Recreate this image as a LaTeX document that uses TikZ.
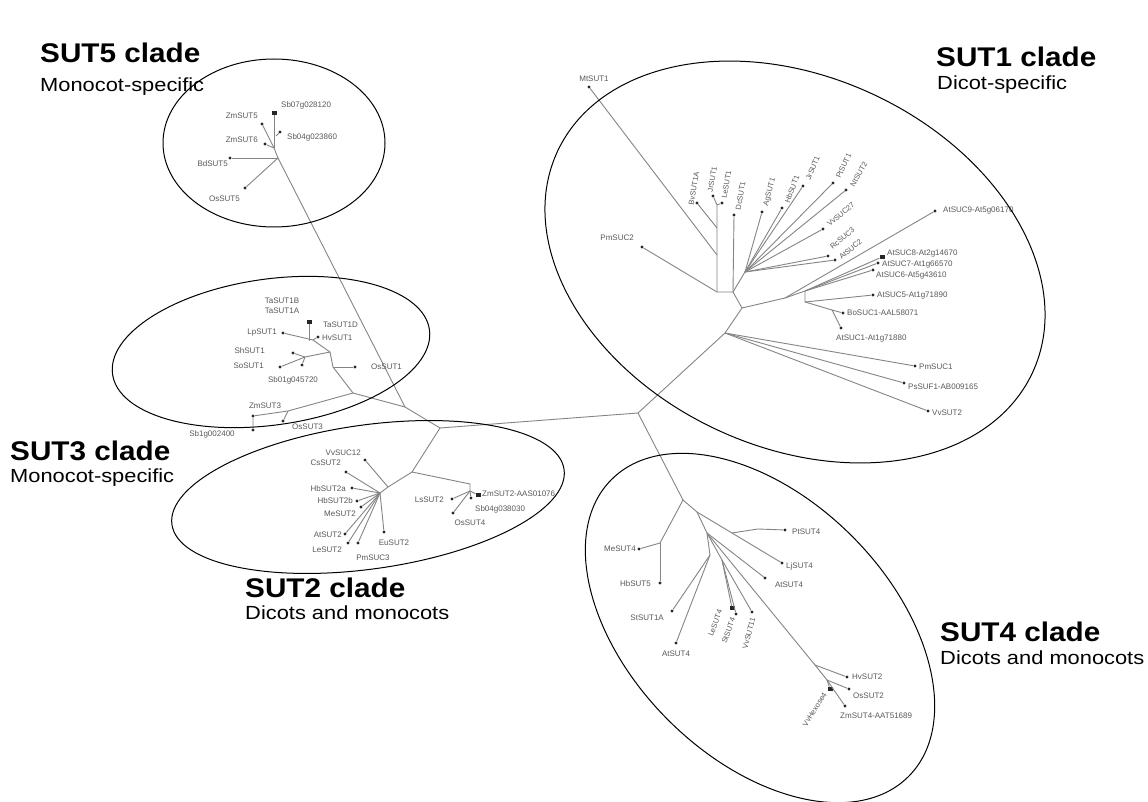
\documentclass[tikz,border=0pt]{standalone}
\usepackage{fontspec}
\setmainfont{Liberation Sans}
\begin{document}
\begin{tikzpicture}[x=1pt,y=-1pt,
  br/.style={draw=black!48, line width=0.9pt},
  lf/.style={circle, fill=black!85, inner sep=0pt, minimum size=3.4pt},
  sq/.style={rectangle, fill=black!85, inner sep=0pt, minimum width=5pt, minimum height=4pt},
  lab/.style={font=\fontsize{8}{8}\selectfont, text=black!65, inner sep=0pt},
  rlab/.style={font=\fontsize{7.5}{7.5}\selectfont, text=black!65, inner sep=0pt},
  clade/.style={draw=black, line width=1pt},
  ttl/.style={font=\bfseries\fontsize{27}{30}\selectfont, anchor=base west, inner sep=0pt, xscale=1.1},
  sub/.style={font=\fontsize{19}{22}\selectfont, anchor=base west, inner sep=0pt, xscale=1.15}]
\useasboundingbox (0,0) rectangle (1148,802);
\fill[white] (0,0) rectangle (1148,802);

% ---------- backbone ----------
\coordinate (A) at (440,428);
\coordinate (J0) at (405,407);
\coordinate (B) at (638,413);
\draw[br] (J0) -- (A) -- (B);

% ---------- SUT5 ----------
\coordinate (S5a) at (278,158);
\coordinate (S5c) at (274,148);
\node[lf] (bd5) at (230,158) {};
\node[lf] (os5) at (245,188) {};
\node[lf] (zm6) at (265,144) {};
\node[lf] (zm5) at (262,124) {};
\node[lf] (sb04) at (280,132) {};
\node[sq] (sb07) at (274,113) {};
\draw[br] (J0) -- (S5a) -- (S5c) -- (zm5);
\draw[br] (S5a) -- (bd5);
\draw[br] (S5a) -- (os5);
\draw[br] (S5c) -- (zm6);
\draw[br] (S5c) -- (sb07);
\draw[br] (276,136) -- (sb04);
\node[lab, anchor=west] (tsb07) at (281,105) {Sb07g028120};
\node[lab, anchor=east] (tzm5) at (258,116) {ZmSUT5};
\node[lab, anchor=west] (tsb04) at (287,137) {Sb04g023860};
\node[lab, anchor=east] (tzm6) at (258,140) {ZmSUT6};
\node[lab, anchor=east] (tbd5) at (228,164) {BdSUT5};
\node[lab, anchor=east] (tos5) at (240,199) {OsSUT5};

% ---------- SUT3 ----------
\coordinate (S3a) at (353,393);
\coordinate (S3m) at (333,367);
\coordinate (S3b) at (330,352);
\coordinate (S3c) at (313,340);
\coordinate (S3d) at (305,357);
\coordinate (S3e) at (288,411);
\node[lf] (lp1) at (283,333) {};
\node[lf] (hv1) at (318,337) {};
\node[sq] (ta1) at (309,322) {};
\node[lf] (os1) at (355,367) {};
\node[lf] (sh1) at (293,353) {};
\node[lf] (so1) at (280,367) {};
\node[lf] (sb01) at (302,365) {};
\node[lf] (zm3) at (253,416) {};
\node[lf] (sb10) at (253,430) {};
\node[lf] (os3) at (283,421) {};
\draw[br] (J0) -- (S3a) -- (S3m) -- (S3b) -- (S3c) -- (lp1);
\draw[br] (S3m) -- (os1);
\draw[br] (S3c) -- (hv1);
\draw[br] (ta1) -- (309,341);
\draw[br] (S3b) -- (S3d) -- (sh1);
\draw[br] (S3d) -- (so1);
\draw[br] (S3d) -- (sb01);
\draw[br] (S3a) -- (S3e) -- (zm3) -- (sb10);
\draw[br] (S3e) -- (os3);
\node[lab] (tta1b) at (282,301) {TaSUT1B};
\node[lab] (tta1a) at (282,311) {TaSUT1A};
\node[lab, anchor=west] (tta1d) at (323,325) {TaSUT1D};
\node[lab, anchor=east] (tlp1) at (277,333) {LpSUT1};
\node[lab, anchor=west] (thv1) at (322,338) {HvSUT1};
\node[lab, anchor=east] (tsh1) at (265,351) {ShSUT1};
\node[lab, anchor=east] (tso1) at (264,366) {SoSUT1};
\node[lab] (tsb01) at (293,380) {Sb01g045720};
\node[lab, anchor=west] (tos1) at (371,367) {OsSUT1};
\node[lab] (tzm3) at (265,406) {ZmSUT3};
\node[lab] (tsb10) at (212,434) {Sb1g002400};
\node[lab, anchor=west] (tos3) at (292,427) {OsSUT3};

% ---------- SUT2 ----------
\coordinate (J2a) at (412,472);
\coordinate (J2b) at (388,487);
\coordinate (J2c) at (380,493);
\coordinate (J2d) at (470,484);
\coordinate (J2e) at (470,491);
\node[lf] (vv12) at (365,460) {};
\node[lf] (cs2) at (346,472) {};
\node[lf] (hb2a) at (352,488) {};
\node[lf] (hb2b) at (357,501) {};
\node[lf] (me2) at (361,507) {};
\node[lf] (at2) at (345,534) {};
\node[lf] (le2) at (348,543) {};
\node[lf] (pm3) at (358,543) {};
\node[lf] (eu2) at (384,532) {};
\node[lf] (ls2) at (452,499) {};
\node[lf] (sb38) at (471,498) {};
\node[sq] (zm2) at (478,495) {};
\node[lf] (os4) at (453,513) {};
\draw[br] (A) -- (J2a) -- (J2b) -- (J2c);
\draw[br] (J2a) -- (J2d) -- (J2e);
\draw[br] (J2b) -- (vv12);
\foreach \n in {cs2,hb2a,hb2b,me2,at2,le2,pm3,eu2} \draw[br] (J2c) -- (\n);
\foreach \n in {ls2,sb38,zm2,os4} \draw[br] (J2e) -- (\n);
\node[lab, anchor=east] (tvv12) at (361,453) {VvSUC12};
\node[lab, anchor=east] (tcs2) at (341,463) {CsSUT2};
\node[lab, anchor=east] (thb2a) at (346,489) {HbSUT2a};
\node[lab, anchor=east] (thb2b) at (353,501) {HbSUT2b};
\node[lab, anchor=east] (tme2) at (356,514) {MeSUT2};
\node[lab, anchor=east] (tat2) at (342,535) {AtSUT2};
\node[lab, anchor=east] (tle2) at (342,550) {LeSUT2};
\node[lab] (tpm3) at (373,558) {PmSUC3};
\node[lab] (teu2) at (394,543) {EuSUT2};
\node[lab, anchor=east] (tls2) at (444,500) {LsSUT2};
\node[lab, anchor=west] (tzm2) at (482,494) {ZmSUT2-AAS01076};
\node[lab, anchor=west] (tsb38) at (475,509) {Sb04g038030};
\node[lab] (tos4) at (470,523) {OsSUT4};

% ---------- SUT1 ----------
\coordinate (K1) at (725,333);
\coordinate (K) at (742,308);
\coordinate (K0) at (733,292);
\coordinate (L0) at (717,292);
\coordinate (L1) at (717,205);
\coordinate (Lm) at (717,255);
\coordinate (Lb) at (717,228);
\coordinate (F) at (745,272);
\coordinate (K2) at (785,298);
\coordinate (K3) at (805,291);
\coordinate (K4) at (805,302);
\coordinate (K5) at (832,310);
\node[lf] (mt1) at (589,87) {};
\node[lf] (pm2) at (642,247) {};
\node[lf] (bv1) at (697,203) {};
\node[lf] (jr1) at (713,196) {};
\node[lf] (le1) at (722,203) {};
\node[lf] (dc1) at (734,215) {};
\node[lf] (d1) at (762,212) {};
\node[lf] (d2) at (782,208) {};
\node[lf] (d3) at (803,186) {};
\node[lf] (d4) at (833,183) {};
\node[lf] (d5) at (846,190) {};
\node[lf] (d6) at (823,229) {};
\node[lf] (d7) at (828,256) {};
\node[lf] (d8) at (835,260) {};
\node[lf] (at9) at (935,211) {};
\node[sq] (at8) at (882,257) {};
\node[lf] (at7) at (878,263) {};
\node[lf] (at6) at (873,270) {};
\node[lf] (at5) at (873,295) {};
\node[lf] (bo1) at (843,313) {};
\node[lf] (at1) at (841,328) {};
\node[lf] (pm1) at (915,366) {};
\node[lf] (ps1) at (904,383) {};
\node[lf] (vv2) at (928,411) {};
\draw[br] (B) -- (K1) -- (K) -- (K0) -- (L0);
\draw[br] (L0) -- (pm2);
\draw[br] (L0) -- (L1) -- (jr1);
\draw[br] (L1) -- (le1);
\draw[br] (Lm) -- (mt1);
\draw[br] (Lb) -- (bv1);
\draw[br] (K0) -- (dc1);
\draw[br] (K0) -- (F);
\foreach \n in {d1,d2,d3,d4,d5,d6,d7,d8} \draw[br] (F) -- (\n);
\draw[br] (K) -- (K2) -- (at9);
\draw[br] (K2) -- (K3);
\foreach \n in {at8,at7,at6} \draw[br] (K3) -- (\n);
\draw[br] (K3) -- (K4) -- (at5);
\draw[br] (K4) -- (K5) -- (bo1);
\draw[br] (K5) -- (at1);
\foreach \n in {pm1,ps1,vv2} \draw[br] (K1) -- (\n);
\node[lab] (tmt1) at (594,79) {MtSUT1};
\node[lab, anchor=east] (tpm2) at (634,238) {PmSUC2};
\node[rlab, rotate=80, anchor=west] (tbv1) at (691,205) {BvSUT1A};
\node[rlab, rotate=80, anchor=west] (tjr1) at (710,192) {JrSUT1};
\node[rlab, rotate=80, anchor=west] (tle1) at (724,198) {LeSUT1};
\node[rlab, rotate=80, anchor=west] (tdc1) at (738,210) {DcSUT1};
\node[rlab, rotate=75, anchor=west] (td1) at (766,206) {AgSUT1};
\node[rlab, rotate=70, anchor=west] (td2) at (787,203) {HbSUT1};
\node[rlab, rotate=68, anchor=west] (td3) at (808,180) {JrSUT1};
\node[rlab, rotate=65, anchor=west] (td4) at (838,178) {PtSUT1};
\node[rlab, rotate=60, anchor=west] (td5) at (852,186) {NtSUT2};
\node[rlab, rotate=40, anchor=west] (td6) at (828,225) {VvSUC27};
\node[rlab, rotate=40, anchor=west] (td7) at (831,248) {RcSUC3};
\node[rlab, rotate=40, anchor=west] (td8) at (840,258) {AtSUC2};
\node[lab, anchor=west] (tat9) at (943,211) {AtSUC9-At5g06170};
\node[lab, anchor=west] (tat8) at (887,254) {AtSUC8-At2g14670};
\node[lab, anchor=west] (tat7) at (882,265) {AtSUC7-At1g66570};
\node[lab, anchor=west] (tat6) at (876,276) {AtSUC6-At5g43610};
\node[lab, anchor=west] (tat5) at (877,296) {AtSUC5-At1g71890};
\node[lab, anchor=west] (tbo1) at (847,313) {BoSUC1-AAL58071};
\node[lab, anchor=west] (tat1) at (836,339) {AtSUC1-At1g71880};
\node[lab, anchor=west] (tpm1) at (919,367) {PmSUC1};
\node[lab, anchor=west] (tps1) at (908,387) {PsSUF1-AB009165};
\node[lab, anchor=west] (tvv2) at (932,413) {VvSUT2};

% ---------- SUT4 ----------
\coordinate (J4a) at (683,500);
\coordinate (J4m) at (660,543);
\coordinate (J4b) at (697,512);
\coordinate (J4c) at (732,533);
\coordinate (J4d) at (707,533);
\coordinate (J4e) at (710,555);
\coordinate (J4f) at (722,560);
\coordinate (J4h) at (815,665);
\coordinate (J4i) at (827,680);
\node[lf] (me4) at (639,549) {};
\node[lf] (hb5) at (660,583) {};
\node[lf] (pt4) at (785,530) {};
\node[lf] (lj4) at (782,563) {};
\node[lf] (at4) at (765,578) {};
\node[lf] (si1) at (672,611) {};
\node[lf] (at4b) at (676,643) {};
\node[sq] (le4) at (732,608) {};
\node[lf] (st4) at (736,614) {};
\node[lf] (vv11) at (752,612) {};
\node[lf] (hv2) at (847,677) {};
\node[sq] (vvh) at (830,689) {};
\node[lf] (os2) at (849,689) {};
\node[lf] (zm4) at (845,706) {};
\draw[br] (B) -- (J4a) -- (J4m) -- (me4);
\draw[br] (J4m) -- (hb5);
\draw[br] (J4a) -- (J4b) -- (J4c) -- (lj4);
\draw[br] (J4c) -- (758,529) -- (pt4);
\draw[br] (J4b) -- (J4d) -- (J4h);
\draw[br] (J4d) -- (at4);
\draw[br] (J4d) -- (J4e) -- (si1);
\draw[br] (J4e) -- (at4b);
\draw[br] (J4d) -- (J4f) -- (le4);
\draw[br] (J4f) -- (st4);
\draw[br] (J4f) -- (vv11);
\draw[br] (J4h) -- (hv2);
\draw[br] (J4h) -- (J4i) -- (vvh);
\draw[br] (J4i) -- (os2);
\draw[br] (J4i) -- (zm4);
\node[lab, anchor=east] (tme4) at (636,549) {MeSUT4};
\node[lab, anchor=east] (thb5) at (651,584) {HbSUT5};
\node[lab, anchor=west] (tpt4) at (792,532) {PtSUT4};
\node[lab, anchor=west] (tlj4) at (786,566) {LjSUT4};
\node[lab] (tat4) at (789,585) {AtSUT4};
\node[lab, anchor=east] (tsi1) at (664,618) {StSUT1A};
\node[lab] (tat4b) at (676,654) {AtSUT4};
\node[rlab, rotate=70, anchor=east] (tle4) at (720,610) {LeSUT4};
\node[rlab, rotate=70, anchor=east] (tst4) at (733,618) {StSUT4};
\node[rlab, rotate=75, anchor=east] (tvv11) at (753,618) {VvSUT11};
\node[lab, anchor=west] (thv2) at (852,677) {HvSUT2};
\node[lab, anchor=west] (tos2) at (853,696) {OsSUT2};
\node[lab, anchor=west] (tzm4) at (840,716) {ZmSUT4-AAT51689};
\node[rlab, rotate=58, anchor=east] (tvvh) at (825,693) {VvHexose4};

% ---------- clade ellipses ----------
\draw[clade] (274,143) ellipse [x radius=111, y radius=84];
\draw[clade, rotate around={8:(271,352)}] (271,352) ellipse [x radius=160, y radius=73];
\draw[clade, rotate around={8:(368,497)}] (368,497) ellipse [x radius=198, y radius=72];
\draw[clade, rotate around={-25:(795,262)}] (795,262) ellipse [x radius=262, y radius=185];
\draw[clade, rotate around={-45:(760,628)}] (760,628) ellipse [x radius=210, y radius=130];

% ---------- titles ----------
\node[ttl] (h5) at (40,63) {SUT5 clade};
\node[sub] (s5) at (40,92) {Monocot-specific};
\node[ttl] (h1) at (936,67) {SUT1 clade};
\node[sub] (s1) at (937,90) {Dicot-specific};
\node[ttl] (h3) at (10,460) {SUT3 clade};
\node[sub] (s3) at (10,482) {Monocot-specific};
\node[ttl] (h2) at (245,597) {SUT2 clade};
\node[sub] (s2) at (245,619) {Dicots and monocots};
\node[ttl] (h4) at (940,641) {SUT4 clade};
\node[sub] (s4) at (940,664) {Dicots and monocots};
\end{tikzpicture}
\end{document}
